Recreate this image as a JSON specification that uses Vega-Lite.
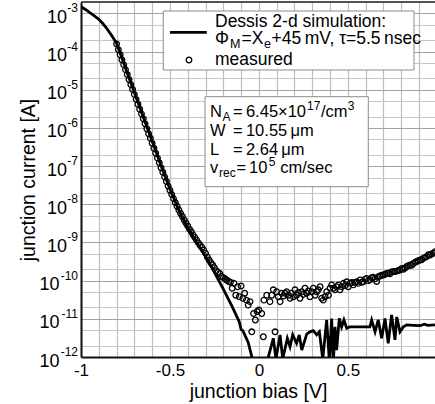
{
  "$schema": "https://vega.github.io/schema/vega-lite/v6.json",
  "width": 354,
  "height": 355,
  "autosize": {"type": "none"},
  "padding": {"left": 81, "top": 2, "right": 0, "bottom": 47},
  "config": {
    "font": "Liberation Sans",
    "view": {"stroke": null},
    "text": {"font": "Liberation Sans", "color": "#000"}
  },
  "resolve": {"axis": {"x": "independent", "y": "independent"}},
  "datasets": {
    "sim": [
      {"V": -1.0, "I": 1.514e-3}, {"V": -0.975, "I": 1.274e-3}, {"V": -0.95, "I": 1.047e-3}, {"V": -0.925, "I": 8.71e-4},
      {"V": -0.9, "I": 7.079e-4}, {"V": -0.88, "I": 5.623e-4}, {"V": -0.86, "I": 4.365e-4}, {"V": -0.83, "I": 2.754e-4},
      {"V": -0.815, "I": 2.138e-4}, {"V": -0.8, "I": 1.66e-4}, {"V": -0.775, "I": 7.943e-5}, {"V": -0.75, "I": 3.715e-5},
      {"V": -0.7, "I": 8.511e-6}, {"V": -0.65, "I": 1.95e-6}, {"V": -0.6, "I": 4.467e-7}, {"V": -0.55, "I": 1.023e-7},
      {"V": -0.5, "I": 2.512e-8}, {"V": -0.45, "I": 7.079e-9}, {"V": -0.4, "I": 2.399e-9}, {"V": -0.35, "I": 1.0e-9},
      {"V": -0.3, "I": 4.365e-10}, {"V": -0.25, "I": 1.66e-10}, {"V": -0.2, "I": 6.026e-11}, {"V": -0.15, "I": 2.089e-11},
      {"V": -0.11, "I": 8.318e-12}, {"V": -0.1, "I": 5.248e-12}, {"V": -0.09, "I": 4.898e-12}, {"V": -0.06, "I": 2.399e-12},
      {"V": -0.04, "I": 1.023e-12}, {"V": -0.025, "I": 3e-13}, {"V": 0.035, "I": 3e-13}, {"V": 0.053, "I": 1.0e-12},
      {"V": 0.081, "I": 3.09e-12}, {"V": 0.096, "I": 8.9e-13}, {"V": 0.119, "I": 3.802e-12}, {"V": 0.134, "I": 8.9e-13},
      {"V": 0.16, "I": 3.09e-12}, {"V": 0.175, "I": 1.862e-12}, {"V": 0.19, "I": 3.802e-12}, {"V": 0.212, "I": 2.291e-12},
      {"V": 0.227, "I": 3.802e-12}, {"V": 0.241, "I": 1.514e-12}, {"V": 0.269, "I": 3.981e-12}, {"V": 0.287, "I": 4.571e-12},
      {"V": 0.306, "I": 4.898e-12}, {"V": 0.325, "I": 3.802e-12}, {"V": 0.34, "I": 4.571e-12}, {"V": 0.359, "I": 8.9e-13},
      {"V": 0.381, "I": 9.333e-12}, {"V": 0.396, "I": 7.9e-13}, {"V": 0.409, "I": 1.023e-11}, {"V": 0.418, "I": 6.3e-13},
      {"V": 0.428, "I": 6.166e-12}, {"V": 0.437, "I": 1.514e-12}, {"V": 0.452, "I": 1.023e-11}, {"V": 0.465, "I": 6.166e-12},
      {"V": 0.478, "I": 9.333e-12}, {"V": 0.494, "I": 5.623e-12}, {"V": 0.512, "I": 6.166e-12}, {"V": 0.624, "I": 6.166e-12},
      {"V": 0.634, "I": 9.333e-12}, {"V": 0.653, "I": 4.571e-12}, {"V": 0.671, "I": 9.333e-12}, {"V": 0.69, "I": 3.09e-12},
      {"V": 0.709, "I": 1.023e-11}, {"V": 0.727, "I": 2.291e-12}, {"V": 0.746, "I": 1.259e-11}, {"V": 0.765, "I": 2.818e-12},
      {"V": 0.775, "I": 1.122e-11}, {"V": 0.793, "I": 4.571e-12}, {"V": 0.812, "I": 6.166e-12}, {"V": 0.831, "I": 6.918e-12},
      {"V": 0.87, "I": 6.761e-12}, {"V": 0.906, "I": 6.607e-12}, {"V": 0.93, "I": 7.244e-12}, {"V": 0.95, "I": 6.761e-12},
      {"V": 0.99, "I": 6.918e-12}
    ],
    "meas": [
      {"V": -0.8, "I": 1.585e-4}, {"V": -0.79, "I": 1.122e-4}, {"V": -0.78, "I": 8.318e-5}, {"V": -0.77, "I": 6.166e-5},
      {"V": -0.76, "I": 4.571e-5}, {"V": -0.75, "I": 3.388e-5}, {"V": -0.74, "I": 2.512e-5}, {"V": -0.73, "I": 1.862e-5},
      {"V": -0.72, "I": 1.38e-5}, {"V": -0.71, "I": 1.023e-5}, {"V": -0.7, "I": 7.586e-6}, {"V": -0.69, "I": 5.623e-6},
      {"V": -0.68, "I": 4.169e-6}, {"V": -0.67, "I": 3.09e-6}, {"V": -0.66, "I": 2.344e-6}, {"V": -0.65, "I": 1.738e-6},
      {"V": -0.64, "I": 1.288e-6}, {"V": -0.63, "I": 9.55e-7}, {"V": -0.62, "I": 7.079e-7}, {"V": -0.61, "I": 5.37e-7},
      {"V": -0.6, "I": 3.981e-7}, {"V": -0.59, "I": 2.951e-7}, {"V": -0.58, "I": 2.188e-7}, {"V": -0.57, "I": 1.622e-7},
      {"V": -0.56, "I": 1.23e-7}, {"V": -0.55, "I": 9.12e-8}, {"V": -0.54, "I": 6.918e-8}, {"V": -0.53, "I": 5.248e-8},
      {"V": -0.52, "I": 3.981e-8}, {"V": -0.51, "I": 3.02e-8}, {"V": -0.5, "I": 2.344e-8}, {"V": -0.49, "I": 1.82e-8},
      {"V": -0.48, "I": 1.413e-8}, {"V": -0.47, "I": 1.122e-8}, {"V": -0.46, "I": 8.913e-9}, {"V": -0.45, "I": 7.079e-9},
      {"V": -0.44, "I": 5.754e-9}, {"V": -0.43, "I": 4.786e-9}, {"V": -0.42, "I": 3.89e-9}, {"V": -0.41, "I": 3.236e-9},
      {"V": -0.4, "I": 2.692e-9}, {"V": -0.39, "I": 2.239e-9}, {"V": -0.38, "I": 1.905e-9}, {"V": -0.37, "I": 1.585e-9},
      {"V": -0.36, "I": 1.349e-9}, {"V": -0.35, "I": 1.148e-9}, {"V": -0.34, "I": 9.772e-10}, {"V": -0.33, "I": 8.318e-10},
      {"V": -0.32, "I": 7.413e-10}, {"V": -0.31, "I": 6.31e-10}, {"V": -0.3, "I": 5.248e-10}, {"V": -0.29, "I": 4.169e-10},
      {"V": -0.28, "I": 3.467e-10}, {"V": -0.27, "I": 2.951e-10}, {"V": -0.26, "I": 2.57e-10}, {"V": -0.25, "I": 2.188e-10},
      {"V": -0.24, "I": 1.82e-10}, {"V": -0.23, "I": 1.66e-10}, {"V": -0.22, "I": 1.549e-10}, {"V": -0.21, "I": 1.288e-10},
      {"V": -0.2, "I": 1.202e-10}, {"V": -0.19, "I": 1.122e-10}, {"V": -0.18, "I": 1.023e-10}, {"V": -0.17, "I": 9.55e-11},
      {"V": -0.16, "I": 9.12e-11}, {"V": -0.15, "I": 6.31e-11}, {"V": -0.14, "I": 8.511e-11}, {"V": -0.13, "I": 4.169e-11},
      {"V": -0.12, "I": 6.918e-11}, {"V": -0.11, "I": 3.802e-11}, {"V": -0.1, "I": 7.244e-11}, {"V": -0.09, "I": 3.467e-11},
      {"V": -0.08, "I": 4.677e-11}, {"V": -0.07, "I": 3.09e-11}, {"V": -0.06, "I": 2.291e-11}, {"V": -0.05, "I": 2.818e-11},
      {"V": -0.04, "I": 4.571e-12}, {"V": -0.03, "I": 1.38e-11}, {"V": -0.02, "I": 9.333e-12}, {"V": -0.01, "I": 1.549e-11},
      {"V": 0.0, "I": 1.698e-11}, {"V": 0.016, "I": 1.38e-11}, {"V": 0.025, "I": 3.388e-12}, {"V": 0.028, "I": 3.09e-11},
      {"V": 0.044, "I": 4.169e-11}, {"V": 0.062, "I": 2.818e-11}, {"V": 0.072, "I": 4.169e-11}, {"V": 0.081, "I": 5.754e-11},
      {"V": 0.091, "I": 4.571e-12}, {"V": 0.1, "I": 5.129e-11}, {"V": 0.109, "I": 3.802e-11}, {"V": 0.119, "I": 2.818e-11},
      {"V": 0.128, "I": 4.677e-11}, {"V": 0.138, "I": 3.981e-11}, {"V": 0.147, "I": 4.677e-11}, {"V": 0.156, "I": 5.129e-11},
      {"V": 0.166, "I": 4.169e-11}, {"V": 0.175, "I": 3.467e-11}, {"V": 0.184, "I": 4.677e-11}, {"V": 0.194, "I": 3.802e-11},
      {"V": 0.203, "I": 5.754e-11}, {"V": 0.212, "I": 4.169e-11}, {"V": 0.222, "I": 4.898e-11}, {"V": 0.231, "I": 3.467e-11},
      {"V": 0.241, "I": 5.129e-11}, {"V": 0.25, "I": 4.365e-11}, {"V": 0.259, "I": 6.31e-11}, {"V": 0.269, "I": 4.677e-11},
      {"V": 0.278, "I": 5.37e-11}, {"V": 0.287, "I": 3.802e-11}, {"V": 0.297, "I": 5.129e-11}, {"V": 0.306, "I": 6.31e-11},
      {"V": 0.316, "I": 4.169e-11}, {"V": 0.325, "I": 5.129e-11}, {"V": 0.334, "I": 5.754e-11}, {"V": 0.344, "I": 6.918e-11},
      {"V": 0.353, "I": 3.467e-11}, {"V": 0.362, "I": 3.09e-11}, {"V": 0.372, "I": 3.802e-11}, {"V": 0.381, "I": 5.129e-11},
      {"V": 0.391, "I": 4.169e-11}, {"V": 0.4, "I": 6.31e-11}, {"V": 0.409, "I": 7.762e-11}, {"V": 0.419, "I": 6.31e-11},
      {"V": 0.428, "I": 5.754e-11}, {"V": 0.437, "I": 6.918e-11}, {"V": 0.447, "I": 7.762e-11}, {"V": 0.456, "I": 5.754e-11},
      {"V": 0.465, "I": 6.918e-11}, {"V": 0.475, "I": 8.511e-11}, {"V": 0.484, "I": 7.413e-11}, {"V": 0.494, "I": 9.333e-11},
      {"V": 0.503, "I": 6.918e-11}, {"V": 0.512, "I": 8.511e-11}, {"V": 0.522, "I": 8.913e-11}, {"V": 0.531, "I": 7.762e-11},
      {"V": 0.54, "I": 8.913e-11}, {"V": 0.55, "I": 9.333e-11}, {"V": 0.559, "I": 8.511e-11}, {"V": 0.569, "I": 1.047e-10},
      {"V": 0.578, "I": 9.12e-11}, {"V": 0.587, "I": 9.333e-11}, {"V": 0.597, "I": 1.096e-10}, {"V": 0.606, "I": 1.148e-10},
      {"V": 0.615, "I": 1.0e-10}, {"V": 0.625, "I": 1.047e-10}, {"V": 0.634, "I": 1.202e-10}, {"V": 0.643, "I": 1.23e-10},
      {"V": 0.653, "I": 1.122e-10}, {"V": 0.662, "I": 9.55e-11}, {"V": 0.671, "I": 1.259e-10}, {"V": 0.681, "I": 1.318e-10},
      {"V": 0.69, "I": 1.38e-10}, {"V": 0.7, "I": 1.413e-10}, {"V": 0.709, "I": 1.479e-10}, {"V": 0.718, "I": 1.549e-10},
      {"V": 0.728, "I": 1.585e-10}, {"V": 0.737, "I": 1.514e-10}, {"V": 0.746, "I": 1.698e-10}, {"V": 0.756, "I": 1.738e-10},
      {"V": 0.765, "I": 1.738e-10}, {"V": 0.775, "I": 1.778e-10}, {"V": 0.784, "I": 1.862e-10}, {"V": 0.793, "I": 1.905e-10},
      {"V": 0.803, "I": 2.089e-10}, {"V": 0.812, "I": 1.995e-10}, {"V": 0.822, "I": 2.138e-10}, {"V": 0.831, "I": 2.344e-10},
      {"V": 0.84, "I": 2.455e-10}, {"V": 0.85, "I": 2.57e-10}, {"V": 0.859, "I": 2.512e-10}, {"V": 0.868, "I": 2.818e-10},
      {"V": 0.878, "I": 3.02e-10}, {"V": 0.887, "I": 3.162e-10}, {"V": 0.896, "I": 3.311e-10}, {"V": 0.906, "I": 3.467e-10},
      {"V": 0.915, "I": 3.548e-10}, {"V": 0.925, "I": 3.89e-10}, {"V": 0.934, "I": 4.074e-10}, {"V": 0.943, "I": 4.266e-10},
      {"V": 0.953, "I": 4.786e-10}, {"V": 0.962, "I": 4.677e-10}, {"V": 0.971, "I": 5.012e-10}, {"V": 0.981, "I": 5.248e-10},
      {"V": 0.99, "I": 5.754e-10}
    ],
    "dec": [
      {"v": 1e-3, "e": "-3"}, {"v": 1e-4, "e": "-4"}, {"v": 1e-5, "e": "-5"}, {"v": 1e-6, "e": "-6"}, {"v": 1e-7, "e": "-7"},
      {"v": 1e-8, "e": "-8"}, {"v": 1e-9, "e": "-9"}, {"v": 1e-10, "e": "-10"}, {"v": 1e-11, "e": "-11"}, {"v": 1e-12, "e": "-12"}
    ]
  },
  "layer": [
    {
      "data": {"name": "sim"},
      "mark": {"type": "line", "color": "#000", "strokeWidth": 2.8, "clip": true},
      "encoding": {
        "x": {
          "field": "V", "type": "quantitative",
          "scale": {"domain": [-1, 0.99], "nice": false, "zero": false},
          "axis": {
            "values": [-1, -0.9, -0.8, -0.7, -0.6, -0.5, -0.4, -0.3, -0.2, -0.1, 0, 0.1, 0.2, 0.3, 0.4, 0.5, 0.6, 0.7, 0.8, 0.9],
            "labelExpr": "datum.value == -1 ? '-1' : datum.value == -0.5 ? '-0.5' : datum.value == 0 ? '0' : datum.value == 0.5 ? '0.5' : ''",
            "ticks": false, "tickSize": 0, "labelPadding": 5, "labelFontSize": 17, "labelColor": "#000",
            "labelFont": "Liberation Sans", "labelOverlap": false, "labelFlush": false,
            "grid": true, "gridColor": "#bdbdbd", "gridWidth": 1.2,
            "domainColor": "#111", "domainWidth": 2,
            "title": "junction bias [V]", "titleFontSize": 19.5, "titleFontWeight": "normal", "titleColor": "#000",
            "titleFont": "Liberation Sans", "titlePadding": 4
          }
        },
        "y": {
          "field": "I", "type": "quantitative",
          "scale": {"type": "log", "domain": [1e-12, 0.002], "nice": false},
          "axis": {
            "values": [1e-12, 2e-12, 5e-12, 1e-11, 2e-11, 5e-11, 1e-10, 2e-10, 5e-10, 1e-9, 2e-9, 5e-9, 1e-8, 2e-8, 5e-8, 1e-7, 2e-7, 5e-7, 1e-6, 2e-6, 5e-6, 1e-5, 2e-5, 5e-5, 1e-4, 2e-4, 5e-4, 1e-3, 2e-3],
            "labels": false, "ticks": false, "tickSize": 0,
            "grid": true,
            "gridColor": {"condition": {"test": "abs(log(datum.value)/LN10 - round(log(datum.value)/LN10)) < 0.01", "value": "#a3a3a3"}, "value": "#c6c6c6"},
            "gridWidth": 1.2,
            "domainColor": "#111", "domainWidth": 2,
            "title": "junction current [A]", "titleFontSize": 19.5, "titleFontWeight": "normal", "titleColor": "#000",
            "titleFont": "Liberation Sans", "titlePadding": 43
          }
        }
      }
    },
    {
      "data": {"name": "meas"},
      "mark": {"type": "point", "shape": "circle", "filled": false, "size": 32, "strokeWidth": 1.3, "color": "#000", "opacity": 1},
      "encoding": {
        "x": {"field": "V", "type": "quantitative", "axis": null},
        "y": {"field": "I", "type": "quantitative", "axis": null}
      }
    },
    {
      "data": {"name": "dec"},
      "transform": [{"filter": "datum.v > 5e-10"}],
      "mark": {"type": "text", "align": "right", "baseline": "alphabetic", "dx": -14, "dy": 9.5, "fontSize": 18},
      "encoding": {
        "x": {"datum": -1, "axis": null},
        "y": {"field": "v", "type": "quantitative", "axis": null},
        "text": {"value": "10"}
      }
    },
    {
      "data": {"name": "dec"},
      "transform": [{"filter": "datum.v < 5e-10"}],
      "mark": {"type": "text", "align": "right", "baseline": "alphabetic", "dx": -21.5, "dy": 9.5, "fontSize": 18},
      "encoding": {
        "x": {"datum": -1, "axis": null},
        "y": {"field": "v", "type": "quantitative", "axis": null},
        "text": {"value": "10"}
      }
    },
    {
      "data": {"name": "dec"},
      "mark": {"type": "text", "align": "right", "baseline": "alphabetic", "dx": -3, "dy": -1, "fontSize": 12},
      "encoding": {
        "x": {"datum": -1, "axis": null},
        "y": {"field": "v", "type": "quantitative", "axis": null},
        "text": {"field": "e"}
      }
    },
    {
      "data": {"values": [{}]},
      "layer": [
        {
          "mark": {"type": "rule", "color": "#222", "strokeWidth": 1.5},
          "encoding": {"y": {"datum": 0.002, "axis": null}}
        },
        {
          "mark": {"type": "rect", "fill": "#fff", "stroke": "#8c8c8c", "strokeWidth": 1},
          "encoding": {
            "x": {"datum": -0.5374, "axis": null}, "x2": {"datum": 0.8719},
            "y": {"datum": 1.162e-3, "axis": null}, "y2": {"datum": 3.31e-5}
          }
        },
        {
          "mark": {"type": "rule", "color": "#000", "strokeWidth": 2.8},
          "encoding": {
            "x": {"datum": -0.5, "axis": null}, "x2": {"datum": -0.293},
            "y": {"datum": 3.213e-4, "axis": null}
          }
        },
        {
          "mark": {"type": "point", "shape": "circle", "filled": false, "size": 32, "strokeWidth": 1.3, "color": "#000", "opacity": 1},
          "encoding": {"x": {"datum": -0.393, "axis": null}, "y": {"datum": 6.04e-5, "axis": null}}
        },
        {
          "mark": {"type": "text", "align": "left", "baseline": "alphabetic", "fontSize": 17.5},
          "encoding": {"x": {"datum": -0.2467, "axis": null}, "y": {"datum": 4.508e-4, "axis": null}, "text": {"value": "Dessis 2-d simulation:"}}
        },
        {
          "mark": {"type": "text", "align": "left", "baseline": "alphabetic", "fontSize": 17.5},
          "encoding": {"x": {"datum": -0.2467, "axis": null}, "y": {"datum": 1.587e-4, "axis": null}, "text": {"value": "Φ"}}
        },
        {
          "mark": {"type": "text", "align": "left", "baseline": "alphabetic", "fontSize": 12.5, "dy": 4},
          "encoding": {"x": {"datum": -0.163, "axis": null}, "y": {"datum": 1.587e-4, "axis": null}, "text": {"value": "M"}}
        },
        {
          "mark": {"type": "text", "align": "left", "baseline": "alphabetic", "fontSize": 17.5},
          "encoding": {"x": {"datum": -0.0978, "axis": null}, "y": {"datum": 1.587e-4, "axis": null}, "text": {"value": "=X"}}
        },
        {
          "mark": {"type": "text", "align": "left", "baseline": "alphabetic", "fontSize": 12.5, "dy": 4},
          "encoding": {"x": {"datum": 0.0293, "axis": null}, "y": {"datum": 1.587e-4, "axis": null}, "text": {"value": "e"}}
        },
        {
          "mark": {"type": "text", "align": "left", "baseline": "alphabetic", "fontSize": 17.5},
          "encoding": {"x": {"datum": 0.0714, "axis": null}, "y": {"datum": 1.587e-4, "axis": null}, "text": {"value": "+45\u2009mV, τ=5.5\u2009nsec"}}
        },
        {
          "mark": {"type": "text", "align": "left", "baseline": "alphabetic", "fontSize": 17.5},
          "encoding": {"x": {"datum": -0.2467, "axis": null}, "y": {"datum": 4.47e-5, "axis": null}, "text": {"value": "measured"}}
        },
        {
          "mark": {"type": "rect", "fill": "#fff", "stroke": "#8c8c8c", "strokeWidth": 1},
          "encoding": {
            "x": {"datum": -0.3029, "axis": null}, "x2": {"datum": 0.6151},
            "y": {"datum": 6.61e-6, "axis": null}, "y2": {"datum": 2.9e-8}
          }
        },
        {
          "mark": {"type": "text", "align": "left", "baseline": "alphabetic", "fontSize": 16.5},
          "encoding": {"x": {"datum": -0.2748, "axis": null}, "y": {"datum": 1.941e-6, "axis": null}, "text": {"value": "N"}}
        },
        {
          "mark": {"type": "text", "align": "left", "baseline": "alphabetic", "fontSize": 12, "dy": 4},
          "encoding": {"x": {"datum": -0.2046, "axis": null}, "y": {"datum": 1.941e-6, "axis": null}, "text": {"value": "A"}}
        },
        {
          "mark": {"type": "text", "align": "left", "baseline": "alphabetic", "fontSize": 16.5},
          "encoding": {"x": {"datum": -0.1455, "axis": null}, "y": {"datum": 1.941e-6, "axis": null}, "text": {"value": "=\u20096.45×10"}}
        },
        {
          "mark": {"type": "text", "align": "left", "baseline": "alphabetic", "fontSize": 12, "dy": -7},
          "encoding": {"x": {"datum": 0.2705, "axis": null}, "y": {"datum": 1.941e-6, "axis": null}, "text": {"value": "17"}}
        },
        {
          "mark": {"type": "text", "align": "left", "baseline": "alphabetic", "fontSize": 16.5},
          "encoding": {"x": {"datum": 0.3492, "axis": null}, "y": {"datum": 1.941e-6, "axis": null}, "text": {"value": "/cm"}}
        },
        {
          "mark": {"type": "text", "align": "left", "baseline": "alphabetic", "fontSize": 12, "dy": -7},
          "encoding": {"x": {"datum": 0.4999, "axis": null}, "y": {"datum": 1.941e-6, "axis": null}, "text": {"value": "3"}}
        },
        {
          "mark": {"type": "text", "align": "left", "baseline": "alphabetic", "fontSize": 16.5},
          "encoding": {"x": {"datum": -0.2748, "axis": null}, "y": {"datum": 6.17e-7, "axis": null}, "text": {"value": "W"}}
        },
        {
          "mark": {"type": "text", "align": "left", "baseline": "alphabetic", "fontSize": 16.5},
          "encoding": {"x": {"datum": -0.1455, "axis": null}, "y": {"datum": 6.17e-7, "axis": null}, "text": {"value": "=\u200910.55\u2009μm"}}
        },
        {
          "mark": {"type": "text", "align": "left", "baseline": "alphabetic", "fontSize": 16.5},
          "encoding": {"x": {"datum": -0.2748, "axis": null}, "y": {"datum": 1.961e-7, "axis": null}, "text": {"value": "L"}}
        },
        {
          "mark": {"type": "text", "align": "left", "baseline": "alphabetic", "fontSize": 16.5},
          "encoding": {"x": {"datum": -0.1455, "axis": null}, "y": {"datum": 1.961e-7, "axis": null}, "text": {"value": "=\u20092.64\u2009μm"}}
        },
        {
          "mark": {"type": "text", "align": "left", "baseline": "alphabetic", "fontSize": 16.5},
          "encoding": {"x": {"datum": -0.2748, "axis": null}, "y": {"datum": 6.62e-8, "axis": null}, "text": {"value": "v"}}
        },
        {
          "mark": {"type": "text", "align": "left", "baseline": "alphabetic", "fontSize": 12, "dy": 4},
          "encoding": {"x": {"datum": -0.2242, "axis": null}, "y": {"datum": 6.62e-8, "axis": null}, "text": {"value": "rec"}}
        },
        {
          "mark": {"type": "text", "align": "left", "baseline": "alphabetic", "fontSize": 16.5},
          "encoding": {"x": {"datum": -0.1259, "axis": null}, "y": {"datum": 6.62e-8, "axis": null}, "text": {"value": "="}}
        },
        {
          "mark": {"type": "text", "align": "left", "baseline": "alphabetic", "fontSize": 16.5},
          "encoding": {"x": {"datum": -0.0556, "axis": null}, "y": {"datum": 6.62e-8, "axis": null}, "text": {"value": "10"}}
        },
        {
          "mark": {"type": "text", "align": "left", "baseline": "alphabetic", "fontSize": 12, "dy": -7},
          "encoding": {"x": {"datum": 0.056, "axis": null}, "y": {"datum": 6.62e-8, "axis": null}, "text": {"value": "5"}}
        },
        {
          "mark": {"type": "text", "align": "left", "baseline": "alphabetic", "fontSize": 16.5},
          "encoding": {"x": {"datum": 0.12, "axis": null}, "y": {"datum": 6.62e-8, "axis": null}, "text": {"value": "cm/sec"}}
        }
      ]
    }
  ]
}
